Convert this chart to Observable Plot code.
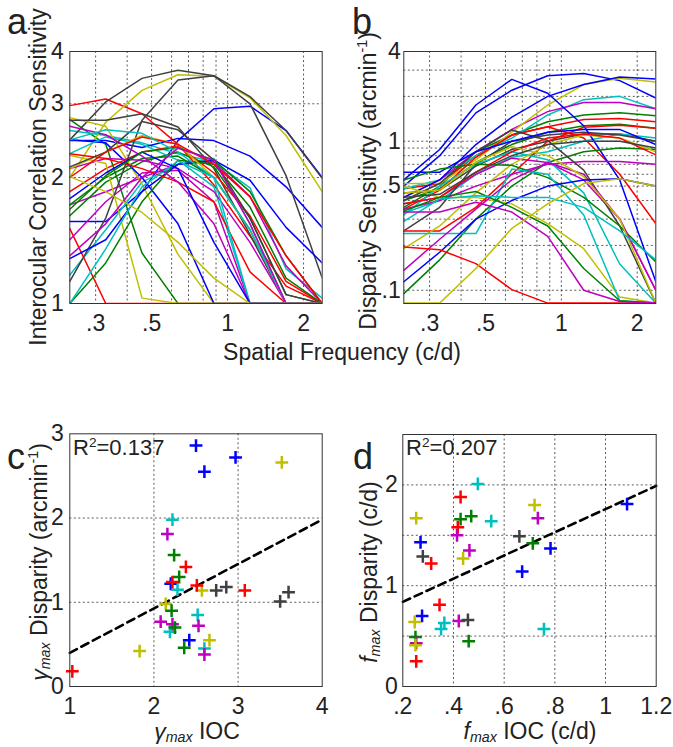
<!DOCTYPE html>
<html><head><meta charset="utf-8">
<script src="https://cdn.jsdelivr.net/npm/d3@7"></script>
<script src="https://cdn.jsdelivr.net/npm/@observablehq/plot@0.6"></script>
<style>
body{margin:0;background:#fff;}
#fig{position:relative;width:673px;height:747px;overflow:hidden;font-family:"Liberation Sans",Arial,sans-serif;color:#222;}
#fig svg{position:absolute;left:0;top:0;background:transparent;}
.lbl{position:absolute;font-size:23px;white-space:nowrap;line-height:1.15;}
.panel{position:absolute;font-size:36px;line-height:1.15;}
.rot{transform:translate(-50%,-50%) rotate(-90deg);}
.hc{transform:translate(-50%,-50%);}
sub,sup{font-size:0.62em;line-height:0;}
sub{vertical-align:-0.22em;}
i{font-style:italic;}
</style></head>
<body>
<div id="fig"></div>
<script>
// ---------- data ----------
const freqs = [0.237, 0.329, 0.458, 0.636, 0.883, 1.227, 1.705, 2.371];
const colorKeys = ["blue","green","red","cyan","magenta","yellow","grey"];
const palette = ["#0000ff","#008000","#ff0000","#00bfbf","#bf00bf","#bfbf00","#404040"];

// Panel a: interocular correlation sensitivity
const iocBlue = [
 [1.57,1.57,1.85,2.45,2.92,2.96,2.59,2.00],
 [2.45,2.45,2.36,2.48,2.45,2.25,1.90,1.52],
 [2.46,2.42,2.00,1.55,1.00,1.00,1.00,1.00],
 [1.28,1.42,1.85,2.15,2.20,1.97,1.52,1.25],
 [1.78,2.05,2.30,2.10,1.40,1.00,1.00,1.00]];
const iocGreen = [
 [2.75,2.40,1.32,1.00,1.00,1.00,1.00,1.00],
 [1.72,2.00,2.22,2.25,2.00,1.50,1.00,1.00],
 [1.62,1.95,2.18,2.30,2.12,1.60,1.05,1.00],
 [1.00,1.25,1.75,2.20,2.15,1.70,1.15,1.00],
 [1.68,2.02,2.30,2.36,2.20,1.85,1.30,1.00]];
const iocRed = [
 [2.97,3.08,2.84,2.40,1.92,1.45,1.10,1.00],
 [1.51,1.00,1.00,1.00,1.00,1.00,1.00,1.00],
 [1.85,2.10,2.30,2.38,2.05,1.62,1.13,1.00],
 [2.28,2.22,2.10,1.95,1.75,1.19,1.00,1.00],
 [2.00,2.30,2.50,2.40,2.15,1.80,1.30,1.00]];
const iocCyan = [
 [2.59,2.52,2.42,2.28,2.18,1.89,1.21,1.03],
 [1.17,1.50,1.95,2.15,2.22,1.55,1.00,1.00],
 [2.28,2.50,2.40,2.20,1.90,1.00,1.00,1.00],
 [1.00,1.35,1.90,2.19,2.00,1.00,1.00,1.00],
 [2.46,2.60,2.55,2.30,2.00,1.50,1.00,1.00]];
const iocMagenta = [
 [1.72,1.85,2.00,2.15,2.18,1.80,1.23,1.00],
 [1.42,1.75,2.05,2.08,1.75,1.00,1.00,1.00],
 [2.10,2.22,2.20,2.10,1.85,1.40,1.00,1.00],
 [2.65,2.53,2.25,1.95,1.55,1.00,1.00,1.00],
 [1.30,1.55,2.00,2.35,2.20,1.55,1.00,1.00]];
const iocYellow = [
 [2.00,2.71,3.23,3.52,3.49,3.10,2.52,1.85],
 [2.78,2.65,1.93,1.31,1.00,1.00,1.00,1.00],
 [2.26,2.16,1.03,1.00,1.00,1.00,1.00,1.00],
 [2.10,2.30,2.52,2.40,2.00,1.50,1.00,1.00],
 [2.01,1.85,1.65,1.40,1.15,1.00,1.00,1.00]];
const iocGrey = [
 [2.46,3.03,3.45,3.61,3.50,3.12,2.59,1.99],
 [2.74,2.74,2.84,2.64,2.10,1.46,1.00,1.00],
 [1.13,1.60,2.74,3.42,3.50,3.00,2.02,1.15],
 [2.12,2.30,2.72,2.60,2.20,1.60,1.05,1.00]];

// Panel b: disparity sensitivity (arcmin^-1)
const dispBlue = [
 [0.50,0.80,1.55,2.20,2.75,2.85,2.55,1.95],
 [0.42,0.55,0.95,1.45,2.00,2.40,2.70,2.62],
 [0.55,0.88,1.75,2.60,2.10,1.27,0.55,0.114],
 [0.62,0.62,0.85,1.00,1.15,1.20,1.20,0.95],
 [0.114,0.18,0.30,0.40,0.50,0.55,0.56,0.50]];
const dispGreen = [
 [0.36,0.50,0.85,1.10,1.35,1.50,1.55,1.48],
 [0.40,0.48,0.72,0.95,1.15,1.27,1.30,1.22],
 [0.095,0.16,0.30,0.50,0.72,0.85,0.90,0.88],
 [0.55,0.65,0.70,0.69,0.57,0.42,0.27,0.155],
 [0.34,0.42,0.46,0.36,0.27,0.14,0.085,0.082]];
const dispRed = [
 [0.48,0.52,0.80,1.10,1.25,1.40,1.42,1.35],
 [0.35,0.47,0.78,1.10,1.25,1.05,0.60,0.28],
 [0.25,0.25,0.36,0.60,1.00,1.24,1.28,1.22],
 [0.38,0.42,0.62,0.85,1.05,1.12,1.05,0.81],
 [0.195,0.187,0.151,0.101,0.082,0.082,0.082,0.082]];
const dispCyan = [
 [0.48,0.55,0.80,1.05,1.50,1.90,2.00,1.65],
 [0.33,0.40,0.60,0.78,0.85,1.00,1.12,1.05],
 [0.32,0.50,0.70,0.85,0.75,0.45,0.15,0.082],
 [0.24,0.24,0.24,0.65,0.60,0.32,0.085,0.082],
 [0.29,0.41,0.43,0.42,0.42,0.36,0.25,0.16]];
const dispMagenta = [
 [0.42,0.55,0.85,1.20,1.58,1.82,1.82,1.65],
 [0.38,0.42,0.60,0.77,0.72,0.55,0.30,0.10],
 [0.35,0.40,0.50,0.60,0.70,0.73,0.73,0.70],
 [0.136,0.22,0.35,0.55,0.72,0.60,0.30,0.10],
 [0.335,0.335,0.39,0.335,0.23,0.10,0.084,0.082]];
const dispYellow = [
 [0.52,0.52,0.75,1.15,1.75,2.40,2.65,2.50],
 [0.50,0.42,0.42,0.38,0.28,0.19,0.09,0.082],
 [0.19,0.27,0.45,0.70,0.95,1.10,1.05,0.85],
 [0.45,0.47,0.72,0.92,0.80,0.58,0.30,0.082],
 [0.082,0.082,0.14,0.26,0.38,0.52,0.56,0.50]];
const dispGrey = [
 [0.45,0.47,0.68,0.88,1.00,1.12,1.12,1.00],
 [0.25,0.36,0.70,1.00,1.10,1.15,1.10,1.00],
 [0.40,0.52,0.85,1.19,1.01,0.64,0.27,0.082],
 [0.42,0.44,0.62,0.80,0.95,1.00,1.00,0.90]];

// Panel c: gamma max
const cColor = ["blue","blue","blue","blue","blue","yellow","yellow","yellow","yellow","yellow",
 "cyan","cyan","cyan","cyan","cyan","magenta","magenta","magenta","magenta","magenta",
 "green","green","green","green","green","red","red","red","red","red","grey","grey","grey","grey"];
const cX = [2.50,2.97,2.60,2.20,2.42, 3.52,2.57,2.14,2.66,1.83, 2.22,2.28,2.52,2.19,2.60,
 2.16,2.08,2.22,2.53,2.60, 2.24,2.30,2.21,2.25,2.36, 2.38,2.22,2.51,3.08,1.03, 2.74,2.86,3.50,3.60];
const cY = [2.86,2.72,2.55,1.22,0.55, 2.66,1.14,0.98,0.55,0.42, 1.98,1.15,0.85,0.65,0.45,
 1.81,0.77,0.74,0.72,0.38, 1.56,1.30,0.90,0.70,0.46, 1.42,1.24,1.20,1.14,0.18, 1.14,1.18,1.01,1.12];
const cFit = [-0.127, 0.527];   // intercept, slope
const cR2 = "0.137";

// Panel d: f max
const dColor = ["cyan","red","yellow","blue","yellow","green","green","cyan","magenta","red",
 "magenta","grey","blue","green","blue","magenta","grey","yellow","red","blue",
 "red","blue","yellow","cyan","cyan","magenta","grey","cyan","green","magenta","yellow","green","red"];
const dX = [0.496,0.428,0.720,1.085,0.253,0.428,0.470,0.549,0.733,0.417,
 0.414,0.660,0.270,0.713,0.783,0.463,0.279,0.438,0.312,0.671,
 0.345,0.276,0.247,0.364,0.351,0.421,0.457,0.757,0.250,0.253,0.250,0.460,0.253];
const dY = [2.01,1.88,1.80,1.81,1.67,1.66,1.69,1.64,1.67,1.58,
 1.50,1.49,1.43,1.42,1.37,1.35,1.29,1.27,1.22,1.14,
 0.81,0.70,0.64,0.63,0.57,0.65,0.66,0.57,0.49,0.43,0.41,0.45,0.25];
const dFit = [0.61, 1.15];
const dR2 = "0.207";

// ticks / grids
const freqTicks = [0.3,0.5,1,2], freqTickLabels = [".3",".5","1","2"];
const freqGrid = [0.3,0.4,0.5,0.6,0.7,0.8,0.9,1,2];
const iocTicks = [1,2,3,4], iocTickLabels = ["1","2","3","4"], iocGrid = [2,3];
const dispTicks = [0.1,0.5,1,4], dispTickLabels = [".1",".5","1","4"];
const dispGrid = [0.1,0.2,0.3,0.4,0.5,0.6,0.7,0.8,0.9,1,2,3];
const cXTicks = [1,2,3,4], cYTicks = [0,1,2,3], cGridX = [2,3], cGridY = [1,2];
const dXTicks = [0.2,0.4,0.6,0.8,1,1.2], dXTickLabels = [".2",".4",".6",".8","1","1.2"];
const dYTicks = [0,1,2], dGridX = [0.4,0.6,0.8,1.0], dGridY = [0.5,1,1.5,2];

// ---------- build ----------
const colorOf = k => palette[colorKeys.indexOf(k)];
function curvesTable(groups) {
  const rows = []; let id = 0;
  for (let k = 0; k < 5; k++) groups.forEach((g, ci) => {
    if (g[k]) { g[k].forEach((v, j) => rows.push({id, color: palette[ci], f: freqs[j], v})); id++; }
  });
  return rows;
}
const iocRows = curvesTable([iocBlue,iocGreen,iocRed,iocCyan,iocMagenta,iocYellow,iocGrey]);
const dispRows = curvesTable([dispBlue,dispGreen,dispRed,dispCyan,dispMagenta,dispYellow,dispGrey]);
const cRows = cX.map((x,i)=>({x, y:cY[i], color:colorOf(cColor[i])}));
const dRows = dX.map((x,i)=>({x, y:dY[i], color:colorOf(dColor[i])}));

const W = 673, H = 747;
const gridStyle = {stroke:"#000", strokeOpacity:0.65, strokeWidth:1, strokeDasharray:"2,2.5"};
const fmt = (vals, labs) => d => labs ? labs[vals.indexOf(d)] : String(d);

function panel(o) {
  return Plot.plot({
    width: W, height: H,
    marginLeft: o.box[0], marginRight: W - o.box[1], marginTop: o.box[2], marginBottom: H - o.box[3],
    style: {background:"transparent", fontSize:"23px", fontFamily:"Liberation Sans, Arial, sans-serif", color:"#222", overflow:"visible"},
    color: {type:"identity"},
    x: {type:o.xType, domain:o.xDomain, ticks:o.xTicks, tickFormat:fmt(o.xTicks,o.xLabs), tickSize:0, tickPadding:11, label:null},
    y: {type:o.yType, domain:o.yDomain, ticks:o.yTicks, tickFormat:fmt(o.yTicks,o.yLabs), tickSize:0, tickPadding:o.yPad, label:null},
    marks: [
      Plot.ruleX(o.xGrid, gridStyle),
      Plot.ruleY(o.yGrid, gridStyle),
      ...o.marks,
      Plot.frame({stroke:"#333", strokeWidth:1})
    ]
  });
}
function fitLine(dom, fit) {
  return Plot.line(dom.map(x => ({x, y: fit[0] + fit[1]*x})), {x:"x", y:"y", stroke:"#000", strokeWidth:2.6, strokeDasharray:"8,5"});
}

const fig = document.getElementById("fig");
const xDom = [freqs[0], freqs[freqs.length-1]];
fig.append(panel({box:[69.3,321.7,51,303], xType:"log", xDomain:xDom, xTicks:freqTicks, xLabs:freqTickLabels,
  yType:"log", yDomain:[1,4], yTicks:iocTicks, yLabs:iocTickLabels, yPad:6, xGrid:freqGrid, yGrid:iocGrid,
  marks:[Plot.line(iocRows, {x:"f", y:"v", z:"id", stroke:"color", strokeWidth:1.5, clip:true})]}));
fig.append(panel({box:[403.3,655.3,51,303], xType:"log", xDomain:xDom, xTicks:freqTicks, xLabs:freqTickLabels,
  yType:"log", yDomain:[0.0815,4], yTicks:dispTicks, yLabs:dispTickLabels, yPad:3, xGrid:freqGrid, yGrid:dispGrid,
  marks:[Plot.line(dispRows, {x:"f", y:"v", z:"id", stroke:"color", strokeWidth:1.5, clip:true})]}));
fig.append(panel({box:[69.3,321.7,433.3,686], xType:"linear", xDomain:[1,4], xTicks:cXTicks,
  yType:"linear", yDomain:[0,3], yTicks:cYTicks, yPad:6, xGrid:cGridX, yGrid:cGridY,
  marks:[fitLine([1,4], cFit), Plot.dot(cRows, {x:"x", y:"y", stroke:"color", symbol:"plus", r:4.2, strokeWidth:2.5})]}));
fig.append(panel({box:[402.3,655.7,434,686], xType:"linear", xDomain:[0.2,1.2], xTicks:dXTicks, xLabs:dXTickLabels,
  yType:"linear", yDomain:[0,2.5], yTicks:dYTicks, yPad:5, xGrid:dGridX, yGrid:dGridY,
  marks:[fitLine([0.2,1.2], dFit), Plot.dot(dRows, {x:"x", y:"y", stroke:"color", symbol:"plus", r:4.2, strokeWidth:2.5})]}));

// ---------- text ----------
function addText(html, cls, style) {
  const d = document.createElement("div");
  d.className = cls; d.innerHTML = html; Object.assign(d.style, style); fig.append(d);
}
addText("a","panel",{left:"7px",top:"1px"});
addText("b","panel",{left:"352px",top:"1px"});
addText("c","panel",{left:"7px",top:"436px"});
addText("d","panel",{left:"353px",top:"436px"});
addText("Interocular Correlation Sensitivity","lbl rot",{left:"38px",top:"177px"});
addText("Disparity Sensitivty (arcmin<sup>-1</sup>)","lbl rot",{left:"368px",top:"181px"});
addText("Spatial Frequency (c/d)","lbl hc",{left:"342px",top:"352px"});
addText("<i>γ<sub>max</sub></i> Disparity (arcmin<sup>-1</sup>)","lbl rot",{left:"39px",top:"562px"});
addText("<i>γ<sub>max</sub></i> IOC","lbl hc",{left:"197px",top:"731px"});
addText("<i>f<sub>max</sub></i> Disparity (c/d)","lbl rot",{left:"369px",top:"572px"});
addText("<i>f<sub>max</sub></i> IOC (c/d)","lbl hc",{left:"530px",top:"731px"});
addText("R<sup>2</sup>=" + cR2,"lbl",{left:"73px",top:"435px",fontSize:"22px"});
addText("R<sup>2</sup>=" + dR2,"lbl",{left:"406px",top:"435px",fontSize:"22px"});
</script>
</body></html>
